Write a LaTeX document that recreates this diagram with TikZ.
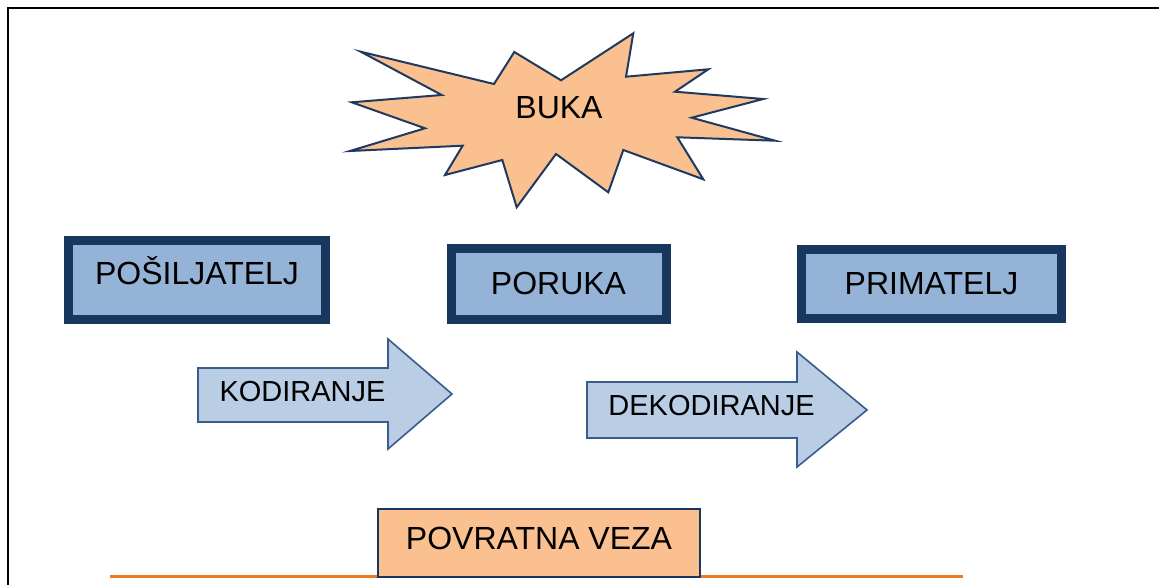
\documentclass[tikz,border=0pt]{standalone}
\usepackage{fontspec}
\setmainfont{Liberation Sans}
\definecolor{navy}{HTML}{17375E}
\definecolor{boxblue}{HTML}{95B3D7}
\definecolor{arrowblue}{HTML}{B9CDE5}
\definecolor{arrowedge}{HTML}{385D8A}
\definecolor{peach}{HTML}{FAC090}
\definecolor{burstedge}{HTML}{1F3A60}
\definecolor{orangeline}{HTML}{EE7A22}
\begin{document}
\begin{tikzpicture}[x=1pt,y=-1pt,
  bigtext/.style={font=\fontsize{32}{38}\selectfont, text=black},
  entity/.style={bigtext, draw=navy, fill=boxblue, line width=9pt, inner sep=0pt,
    text height=22.9pt, text depth=0pt},
  feedback/.style={bigtext, draw=navy, fill=peach, line width=2.5pt, inner sep=0pt,
    text height=22.9pt},
  arrowshape/.style={draw=arrowedge, fill=arrowblue, line width=1.6pt, line join=miter},
  arrowtext/.style={font=\fontsize{29}{35}\selectfont, text=black, inner sep=0pt,
    text height=20.8pt, text depth=0pt},
  burst/.style={draw=burstedge, fill=peach, line width=2pt, line join=miter}
]
\useasboundingbox (0,0) rectangle (1159,585);
\fill[white] (0,0) rectangle (1159,585);
% frame
\draw[line width=2.2pt] (8,585) -- (8,8) -- (1159,8);

% noise starburst
\draw[burst] (360.7,51.7) -- (494,84) -- (514.3,52) -- (561,80.3) -- (633.3,33.3)
  -- (626,76.7) -- (708.3,69.3) -- (675,91.7) -- (763.3,99) -- (691.7,117.7)
  -- (775,140.7) -- (677.3,137.3) -- (703.3,179.3) -- (623.3,150) -- (608.3,192.3)
  -- (556,154) -- (516.7,207.3) -- (502.3,160) -- (445,175) -- (462.7,145.7)
  -- (350,151) -- (425,128.3) -- (351.7,102.3) -- (441.7,95) -- cycle;
\node[bigtext, inner sep=0pt, text height=22.9pt, text depth=0pt] (buka) at (559,106.7) {BUKA};

% entities
\node[entity, minimum width=257pt, minimum height=79pt, text depth=13pt] (posiljatelj) at (197,280) {POŠILJATELJ};
\node[entity, minimum width=215pt, minimum height=70pt, text depth=2pt] (poruka) at (558.5,284) {PORUKA};
\node[entity, minimum width=260pt, minimum height=69pt, text depth=2pt] (primatelj) at (931.5,284) {PRIMATELJ};

% block arrows
\draw[arrowshape] (198,368) -- (388,368) -- (388,339) -- (452,394) -- (388,449)
  -- (388,422) -- (198,422) -- cycle;
\node[arrowtext] (kodiranje) at (302.5,391.5) {KODIRANJE};
\draw[arrowshape] (587,382) -- (797,382) -- (797,352) -- (867,410) -- (797,467)
  -- (797,438) -- (587,438) -- cycle;
\node[arrowtext] (dekodiranje) at (711.5,405) {DEKODIRANJE};

% feedback
\coordinate (lineL) at (110,576.5);
\coordinate (lineR) at (963,576.5);
\draw[orangeline, line width=3pt] (lineL) -- (lineR);
\node[feedback, minimum width=322pt, minimum height=68pt, text depth=9pt] (povratna) at (539,543) {POVRATNA VEZA};
\end{tikzpicture}
\end{document}
